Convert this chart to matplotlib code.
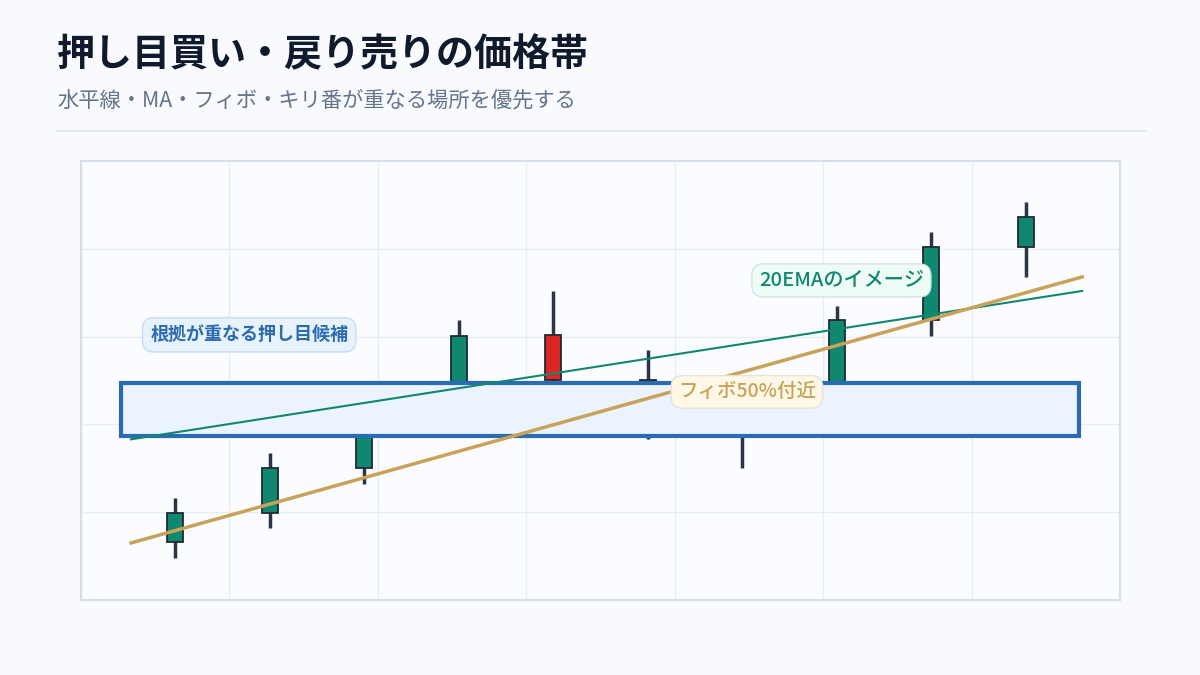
import matplotlib
matplotlib.use("Agg")
import matplotlib.pyplot as plt
from matplotlib.patches import Rectangle
import numpy as np

plt.rcParams['font.family'] = ['Noto Sans CJK JP', 'DejaVu Sans']

# ---- data ----
idx = np.arange(10)
opens = [106.6, 109.9, 115.0, 120.0, 130.2, 125.1, 121.0, 122.0, 131.9, 140.2]
closes = [109.9, 115.0, 120.0, 130.1, 125.1, 121.0, 122.0, 131.9, 140.2, 143.6]
highs = [111.6, 116.7, 121.0, 131.9, 135.2, 128.5, 124.0, 133.5, 141.9, 145.3]
lows = [104.8, 108.2, 113.2, 119.0, 123.0, 118.3, 115.0, 121.0, 130.1, 136.8]

ema_x = [-0.47, 9.6]
ema_y = [118.3, 135.2]
fib_x = [-0.47, 9.6]
fib_y = [106.5, 136.8]

zone_x = [-0.58, 9.57]
zone_y = [118.7, 124.7]

GREEN = '#10876f'
RED = '#dc2626'

fig = plt.figure(figsize=(12, 6.75), dpi=100)
fig.patch.set_facecolor('#f8fafd')

# title block
fig.text(57/1200, 1-55/675, '押し目買い・戻り売りの価格帯', fontsize=27.4, fontweight='bold',
         color='#0f1b2d', va='center', ha='left')
fig.text(57/1200, 1-101/675, '水平線・MA・フィボ・キリ番が重なる場所を優先する', fontsize=15.3,
         color='#64748b', va='center', ha='left')
fig.add_artist(plt.Line2D([57/1200, 1145/1200], [1-131/675, 1-131/675],
                          color='#e2e8f0', lw=1.5))

ax = fig.add_axes([81/1200, 75/675, 1039/1200, 439/675])
ax.set_facecolor('#fbfcff')
ax.set_xlim(-1, 10)
ax.set_ylim(100, 150)
ax.set_xticks(np.linspace(-1, 10, 8))
ax.set_yticks([110, 120, 130, 140])
ax.tick_params(length=0, labelbottom=False, labelleft=False)
ax.grid(True, color='#e7edf4', lw=1)
ax.set_axisbelow(True)
for s in ax.spines.values():
    s.set_color('#d5dfec')
    s.set_linewidth(1.5)

# candles
cols = [GREEN if c >= o else RED for o, c in zip(opens, closes)]
ax.vlines(idx, lows, highs, color='#2b3444', lw=2.5, zorder=2)
bottoms = [min(o, c) for o, c in zip(opens, closes)]
heights = [abs(c - o) for o, c in zip(opens, closes)]
ax.bar(idx, heights, bottom=bottoms, width=0.17, color=cols,
       edgecolor='#1f2937', linewidth=1.3, zorder=2.5)

# zone
ax.add_patch(Rectangle((zone_x[0], zone_y[0]), zone_x[1]-zone_x[0], zone_y[1]-zone_y[0],
                       facecolor='#eaf3fe', edgecolor='#2b6cb0', lw=3, zorder=3))

# lines
ax.plot(ema_x, ema_y, color=GREEN, lw=1.5, zorder=4)
ax.plot(fib_x, fib_y, color='#c9a25a', lw=2.5, zorder=4)

# labels
ax.text(0.78, 130.2, '根拠が重なる押し目候補', fontsize=13, fontweight='bold', color='#2b6cb0',
        ha='center', va='center', zorder=6,
        bbox=dict(boxstyle='round,pad=0.42,rounding_size=0.6', fc='#e8f2fd', ec='#c9dcf3', lw=1))
ax.text(7.05, 136.4, '20EMAのイメージ', fontsize=14.5, fontweight='medium', color=GREEN,
        ha='center', va='center', zorder=6,
        bbox=dict(boxstyle='round,pad=0.35,rounding_size=0.6', fc='#effcf6', ec='#d3e2ea', lw=1))
ax.text(6.05, 123.7, 'フィボ50%付近', fontsize=14, fontweight='medium', color='#c9a25a',
        ha='center', va='center', zorder=6,
        bbox=dict(boxstyle='round,pad=0.35,rounding_size=0.6', fc='#fff8e6', ec='#e4e3da', lw=1))

fig.savefig('out.png', dpi=100, facecolor=fig.get_facecolor())
